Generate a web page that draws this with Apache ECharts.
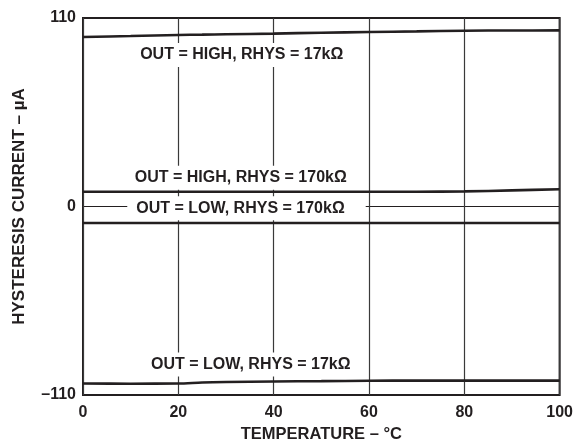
<!DOCTYPE html>
<html>
<head>
<meta charset="utf-8">
<script src="https://cdn.jsdelivr.net/npm/echarts@6/dist/echarts.min.js"></script>
<style>
html,body{margin:0;padding:0;background:#fff;}
#c{width:576px;height:448px;}
</style>
</head>
<body>
<div id="c"></div>
<script>
// Data
const temps = [0, 10, 20, 25, 30, 40, 50, 60, 70, 80, 90, 100];
const highR17k  = [98.9, 99.5, 100.1, 100.3, 100.5, 100.9, 101.4, 101.8, 102.2, 102.6, 102.7, 102.8];
const highR170k = [8.6, 8.6, 8.6, 8.6, 8.6, 8.6, 8.6, 8.6, 8.6, 8.8, 9.4, 10.1];
const lowR170k  = [-9.6, -9.6, -9.6, -9.6, -9.6, -9.6, -9.6, -9.6, -9.6, -9.6, -9.6, -9.6];
const lowR17k   = [-103.3, -103.4, -103.3, -102.7, -102.4, -102.1, -101.9, -101.7, -101.6, -101.6, -101.6, -101.6];
const yTicks = [-110, 0, 110];
const seriesNames = ['OUT = HIGH, RHYS = 17kΩ', 'OUT = HIGH, RHYS = 170kΩ', 'OUT = LOW, RHYS = 170kΩ', 'OUT = LOW, RHYS = 17kΩ'];
// label anchor positions (data coordinates)
const labelAnchors = [[33.3, 88.4], [33.1, 16.8], [34.3, -1.0], [35.2, -92.2]];

const ink = '#231f20';
const font = 'Liberation Sans, Arial, Helvetica, sans-serif';
const allSeries = [highR17k, highR170k, lowR170k, lowR17k];
const labelPads = [[4, 10], [4, 10], [4, 21, 4, 9], [4, 10]];

const chart = echarts.init(document.getElementById('c'), null, {renderer: 'canvas'});
chart.setOption({
  animation: false,
  backgroundColor: '#fff',
  grid: {left: 83, right: 13, top: 18, bottom: 47, show: true, borderColor: ink, borderWidth: 2, backgroundColor: 'transparent'},
  xAxis: {
    type: 'value', min: 0, max: 100, interval: 20,
    name: 'TEMPERATURE – °C', nameLocation: 'middle', nameGap: 31,
    nameTextStyle: {fontFamily: font, fontWeight: 'bold', fontSize: 16.5, color: ink},
    axisLine: {show: false}, axisTick: {show: false},
    axisLabel: {fontFamily: font, fontWeight: 'bold', fontSize: 16, color: ink, margin: 10},
    splitLine: {show: true, lineStyle: {color: '#3a3a3a', width: 1.2}}
  },
  yAxis: {
    type: 'value', min: yTicks[0], max: yTicks[2], interval: 110,
    name: 'HYSTERESIS CURRENT – µA', nameLocation: 'middle', nameGap: 55,
    nameTextStyle: {fontFamily: font, fontWeight: 'bold', fontSize: 17, color: ink},
    axisLine: {show: false}, axisTick: {show: false},
    axisLabel: {fontFamily: font, fontWeight: 'bold', fontSize: 16, color: ink, margin: 7,
      formatter: v => (v < 0 ? '–' + Math.abs(v) : String(v))},
    splitLine: {show: true, lineStyle: {color: ink, width: 1.2}}
  },
  series: allSeries.map((vals, i) => ({
    type: 'line',
    name: seriesNames[i],
    data: temps.map((t, j) => [t, vals[j]]),
    symbol: 'none',
    smooth: 0.3,
    lineStyle: {color: ink, width: 2.6},
    z: 3,
    markPoint: {
      symbol: 'rect', symbolSize: 1,
      itemStyle: {color: 'rgba(0,0,0,0)'},
      z: 5,
      label: {
        show: true, position: 'inside',
        formatter: seriesNames[i],
        fontFamily: font, fontWeight: 'bold', fontSize: 16, color: ink,
        backgroundColor: '#fff', padding: labelPads[i]
      },
      data: [{coord: labelAnchors[i]}]
    }
  }))
});
</script>
</body>
</html>
